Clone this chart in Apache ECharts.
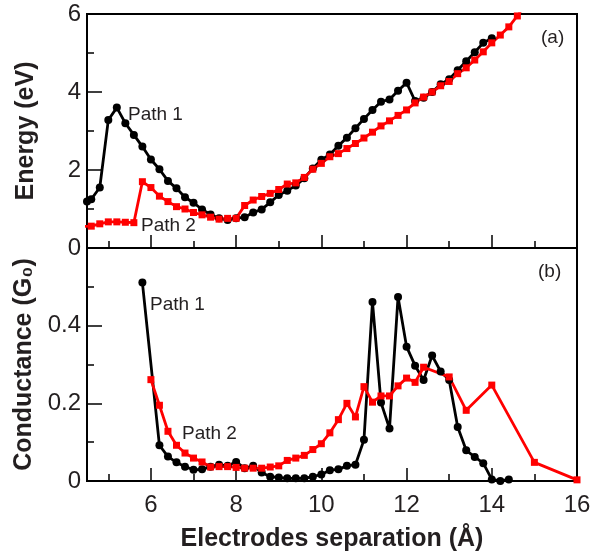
<!DOCTYPE html>
<html>
<head>
<meta charset="utf-8">
<script src="https://cdn.jsdelivr.net/npm/echarts@6/dist/echarts.min.js"></script>
<style>
html, body { margin: 0; padding: 0; background: #fff; }
#chart { width: 601px; height: 554px; }
</style>
</head>
<body>
<div id="chart"></div>
<script>
// (a) energy, path 1 (black) and path 2 (red)
var energyX1 = [4.5, 4.6, 4.8, 5.0, 5.2, 5.4, 5.6, 5.8, 6.0, 6.2, 6.4, 6.6, 6.8, 7.0, 7.2, 7.4, 7.6, 7.8, 8.0, 8.2, 8.4, 8.6, 8.8, 9.0, 9.2, 9.4, 9.6, 9.8, 10.0, 10.2, 10.4, 10.6, 10.8, 11.0, 11.2, 11.4, 11.6, 11.8, 12.0, 12.2, 12.4, 12.6, 12.8, 13.0, 13.2, 13.4, 13.6, 13.8, 14.0];
var energyY1 = [1.19, 1.25, 1.55, 3.28, 3.6, 3.2, 2.9, 2.6, 2.27, 2.02, 1.72, 1.53, 1.3, 1.16, 0.99, 0.86, 0.76, 0.72, 0.76, 0.79, 0.91, 0.99, 1.17, 1.36, 1.47, 1.6, 1.79, 2.04, 2.26, 2.4, 2.62, 2.83, 3.07, 3.31, 3.54, 3.75, 3.81, 4.03, 4.24, 3.77, 3.85, 4.0, 4.2, 4.33, 4.56, 4.79, 5.02, 5.26, 5.38];
var energyX2 = [4.4, 4.6, 4.8, 5.0, 5.2, 5.4, 5.6, 5.8, 6.0, 6.2, 6.4, 6.6, 6.8, 7.0, 7.2, 7.4, 7.6, 7.8, 8.0, 8.2, 8.4, 8.6, 8.8, 9.0, 9.2, 9.4, 9.6, 9.8, 10.0, 10.2, 10.4, 10.6, 10.8, 11.0, 11.2, 11.4, 11.6, 11.8, 12.0, 12.2, 12.4, 12.6, 12.8, 13.0, 13.2, 13.4, 13.6, 13.8, 14.0, 14.2, 14.4, 14.6, 14.8];
var energyY2 = [0.55, 0.56, 0.62, 0.67, 0.67, 0.66, 0.65, 1.7, 1.55, 1.33, 1.19, 1.06, 1.0, 0.91, 0.85, 0.79, 0.74, 0.76, 0.76, 1.09, 1.23, 1.32, 1.4, 1.5, 1.64, 1.67, 1.81, 2.02, 2.17, 2.34, 2.42, 2.55, 2.68, 2.82, 2.97, 3.13, 3.26, 3.4, 3.54, 3.72, 3.87, 4.0, 4.16, 4.27, 4.47, 4.62, 4.82, 5.03, 5.26, 5.46, 5.67, 5.95, 6.25];

// (b) conductance
var condX1 = [5.8, 6.2, 6.4, 6.6, 6.8, 7.0, 7.2, 7.4, 7.6, 7.8, 8.0, 8.2, 8.4, 8.6, 8.8, 9.0, 9.2, 9.4, 9.6, 9.8, 10.0, 10.2, 10.4, 10.6, 10.8, 11.0, 11.2, 11.4, 11.6, 11.8, 12.0, 12.2, 12.4, 12.6, 12.8, 13.0, 13.2, 13.4, 13.6, 13.8, 14.0, 14.2, 14.4];
var condY1 = [0.511, 0.092, 0.063, 0.048, 0.037, 0.029, 0.03, 0.037, 0.042, 0.039, 0.049, 0.033, 0.039, 0.022, 0.011, 0.009, 0.007, 0.007, 0.007, 0.011, 0.017, 0.028, 0.03, 0.039, 0.042, 0.106, 0.461, 0.202, 0.135, 0.474, 0.346, 0.297, 0.26, 0.323, 0.282, 0.26, 0.139, 0.079, 0.062, 0.046, 0.004, 0.0, 0.004];
var condX2 = [6.0, 6.2, 6.4, 6.6, 6.8, 7.0, 7.2, 7.4, 7.6, 7.8, 8.0, 8.2, 8.4, 8.6, 8.8, 9.0, 9.2, 9.4, 9.6, 9.8, 10.0, 10.2, 10.4, 10.6, 10.8, 11.0, 11.2, 11.4, 11.6, 11.8, 12.0, 12.2, 12.4, 13.0, 13.4, 14.0, 15.0, 16.0];
var condY2 = [0.261, 0.195, 0.128, 0.092, 0.072, 0.059, 0.049, 0.036, 0.037, 0.037, 0.035, 0.033, 0.033, 0.033, 0.036, 0.039, 0.053, 0.059, 0.066, 0.081, 0.096, 0.124, 0.158, 0.2, 0.165, 0.243, 0.203, 0.219, 0.219, 0.245, 0.265, 0.254, 0.293, 0.268, 0.182, 0.247, 0.048, 0.003];

function pairs(xs, ys) {
    return xs.map(function (x, i) { return [x, ys[i]]; });
}

var chart = echarts.init(document.getElementById('chart'));
var font = 'Liberation Sans, Arial, Helvetica, sans-serif';
var ink = '#231f20';

function xAxisOf(idx, withLabels) {
    return {
        type: 'value', gridIndex: idx, min: 4.5, max: 16,
        axisLine: { show: true, onZero: false, lineStyle: { color: '#000', width: 2 } },
        axisTick: { show: true, inside: true, length: 13, lineStyle: { color: '#000', width: 1.5 } },
        minorTick: { show: true, splitNumber: 2, length: 7, lineStyle: { color: '#000', width: 1.5 } },
        splitLine: { show: false },
        axisLabel: { show: withLabels, showMinLabel: false, fontSize: 24, color: ink, fontFamily: font, margin: 12 },
        name: withLabels ? 'Electrodes separation (Å)' : '',
        nameLocation: 'middle', nameGap: 46,
        nameTextStyle: { fontSize: 25, fontWeight: 'bold', color: ink, fontFamily: font }
    };
}

function yAxisOf(idx, max, step, name) {
    return {
        type: 'value', gridIndex: idx, min: 0, max: max, interval: step,
        axisLine: { show: true, onZero: false, lineStyle: { color: '#000', width: 2 } },
        axisTick: { show: true, inside: true, length: 15, lineStyle: { color: '#000', width: 1.5 } },
        minorTick: { show: true, splitNumber: 2, length: 7, lineStyle: { color: '#000', width: 1.5 } },
        splitLine: { show: false },
        axisLabel: { fontSize: 24, color: ink, fontFamily: font, margin: 6, showMaxLabel: idx === 0 },
        name: name, nameLocation: 'middle', nameGap: 48,
        nameTextStyle: { fontSize: 25, fontWeight: 'bold', color: ink, fontFamily: font }
    };
}

function lineOf(idx, data, color, symbol, size) {
    return {
        type: 'line', xAxisIndex: idx, yAxisIndex: idx, data: data,
        symbol: symbol, symbolSize: size, clip: true, animation: false,
        lineStyle: { color: color, width: 2.8 },
        itemStyle: { color: color }
    };
}

var textStyle = function (x, y, t) {
    return {
        type: 'text', x: x, y: y,
        style: { text: t, fontSize: 19, fontFamily: font, fill: ink, verticalAlign: 'middle' }
    };
};

chart.setOption({
    backgroundColor: '#fff',
    animation: false,
    grid: [
        { left: 87, right: 24, top: 14, height: 234, show: true, borderColor: '#000', borderWidth: 2 },
        { left: 87, right: 24, top: 248, height: 233, show: true, borderColor: '#000', borderWidth: 2 }
    ],
    xAxis: [xAxisOf(0, false), xAxisOf(1, true)],
    yAxis: [yAxisOf(0, 6, 2, 'Energy (eV)'), yAxisOf(1, 0.6, 0.2, 'Conductance (G₀)')],
    series: [
        lineOf(0, pairs(energyX1, energyY1), '#000', 'circle', 8),
        lineOf(0, pairs(energyX2, energyY2), '#ff0000', 'rect', 7),
        lineOf(1, pairs(condX1, condY1), '#000', 'circle', 8),
        lineOf(1, pairs(condX2, condY2), '#ff0000', 'rect', 7)
    ],
    graphic: [
        textStyle(128, 115, 'Path 1'),
        textStyle(141, 226, 'Path 2'),
        textStyle(150, 305, 'Path 1'),
        textStyle(182, 434, 'Path 2'),
        textStyle(541, 38, '(a)'),
        textStyle(538, 272, '(b)')
    ]
});
</script>
</body>
</html>
